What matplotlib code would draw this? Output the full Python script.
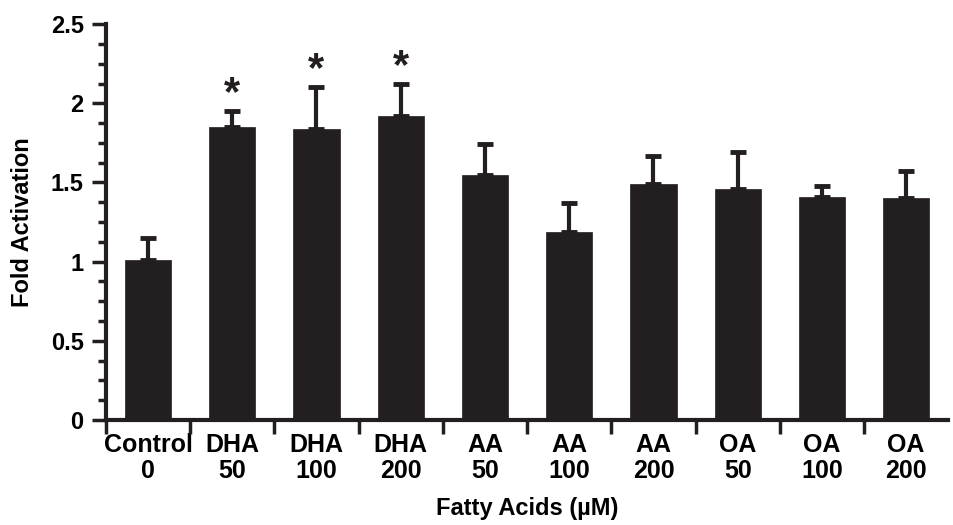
import numpy as np
import matplotlib.pyplot as plt
from matplotlib.ticker import MultipleLocator, FixedLocator

plt.rcParams['font.family'] = ['Liberation Sans', 'DejaVu Sans']
plt.rcParams['font.weight'] = 'bold'

# data
groups = ['Control', 'DHA', 'DHA', 'DHA', 'AA', 'AA', 'AA', 'OA', 'OA', 'OA']
doses = ['0', '50', '100', '200', '50', '100', '200', '50', '100', '200']
fold = [1.01, 1.85, 1.84, 1.92, 1.55, 1.19, 1.49, 1.46, 1.41, 1.40]
sem = [0.14, 0.10, 0.26, 0.20, 0.19, 0.18, 0.18, 0.23, 0.07, 0.17]
signif = [False, True, True, True, False, False, False, False, False, False]

bar_col = '#231f20'

fig = plt.figure(figsize=(9.54, 5.25), dpi=100)
ax = fig.add_axes([0.111, 0.2, 0.883, 0.754])

x = np.arange(len(fold))
ax.bar(x, fold, width=0.55, color=bar_col, edgecolor=bar_col, linewidth=0.5, zorder=2)
ax.errorbar(x, fold, yerr=[np.zeros(len(sem)), sem], fmt='none', ecolor=bar_col,
            elinewidth=3, capsize=6, capthick=3.5, zorder=1)

for i in range(len(fold)):
    if signif[i]:
        ax.text(x[i], fold[i] + sem[i] + 0.11, '*', ha='center', va='center',
                fontsize=30, fontweight='bold', color=bar_col)

ax.set_xlim(-0.5, 9.5)
ax.set_ylim(0, 2.5)

# labels at category centres, ticks at boundaries
ax.set_xticks(x)
ax.set_xticklabels([g + '\n' + d for g, d in zip(groups, doses)], fontsize=18,
                   fontweight='bold', linespacing=1.15)
ax.xaxis.set_minor_locator(FixedLocator(np.arange(-0.5, 9.0, 1.0)))
ax.tick_params(axis='x', which='major', length=0, pad=9)
ax.tick_params(axis='x', which='minor', length=10, width=2.5, direction='out', color=bar_col)

ax.yaxis.set_minor_locator(MultipleLocator(0.125))
ax.set_yticks([0, 0.5, 1, 1.5, 2, 2.5])
ax.set_yticklabels(['0', '0.5', '1', '1.5', '2', '2.5'], fontsize=17, fontweight='bold')
ax.tick_params(axis='y', which='major', length=10, width=2.5, pad=6, color=bar_col)
ax.tick_params(axis='y', which='minor', length=6, width=2.5, color=bar_col)

for s in ['top', 'right']:
    ax.spines[s].set_visible(False)
for s in ['left', 'bottom']:
    ax.spines[s].set_linewidth(3)
    ax.spines[s].set_color(bar_col)

ax.set_xlabel('Fatty Acids (µM)', fontsize=17, fontweight='bold', labelpad=10)
ax.set_ylabel('Fold Activation', fontsize=17, fontweight='bold', labelpad=12)

fig.savefig('out.png', dpi=100)
